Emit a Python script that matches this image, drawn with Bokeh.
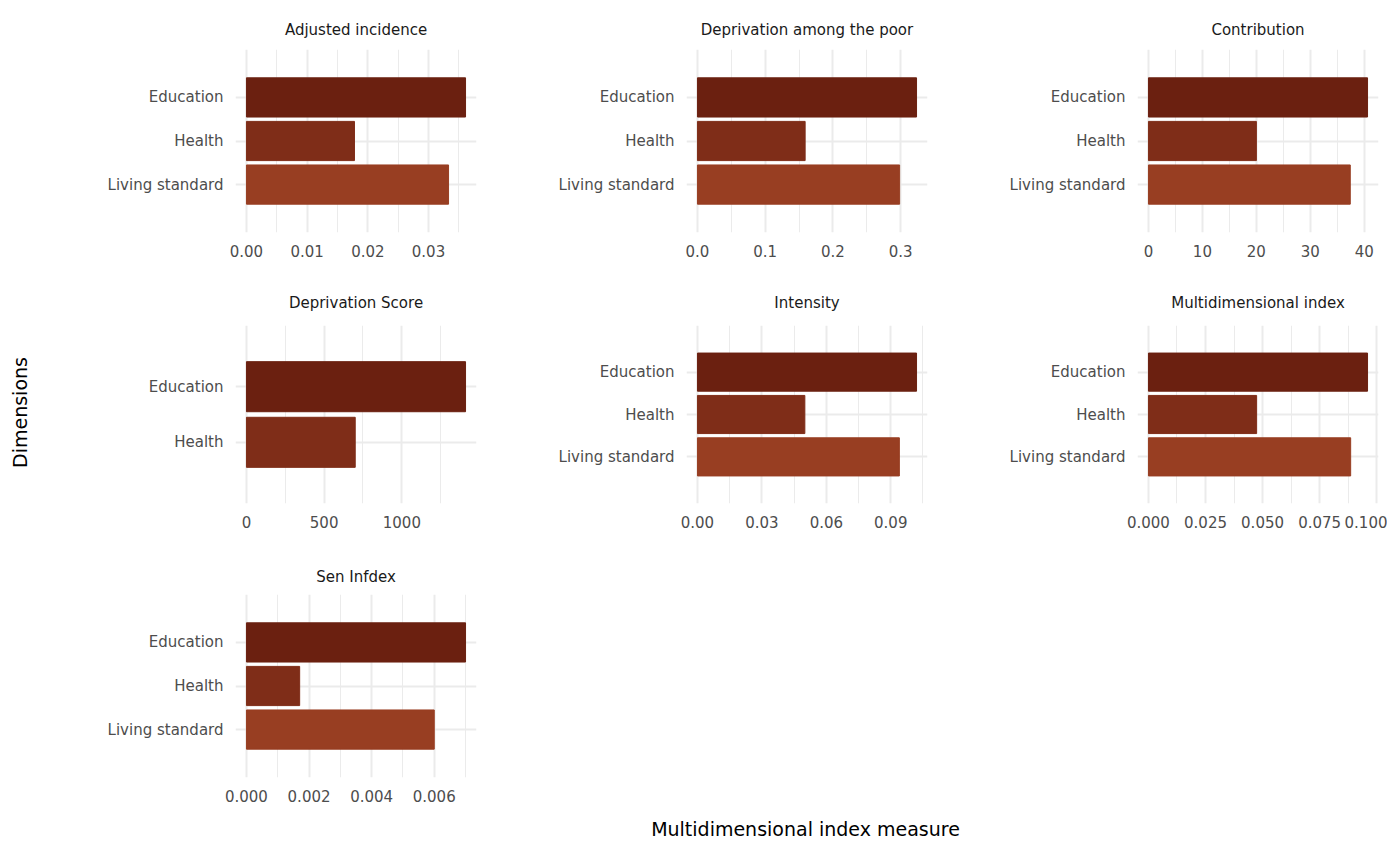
import numpy as np
from bokeh.plotting import figure
from bokeh.layouts import row, column
from bokeh.models import Range1d, FactorRange, FixedTicker, NumeralTickFormatter, Label, Spacer
from bokeh.core.properties import value
from bokeh.embed import file_html
from bokeh.resources import INLINE

FONT = "DejaVu Sans"
categories = ["Education", "Health", "Living standard"]
colors = {"Education": "#6B2010", "Health": "#7F2D18", "Living standard": "#983E22"}

titles = ["Adjusted incidence", "Deprivation among the poor", "Contribution",
          "Deprivation Score", "Intensity", "Multidimensional index", "Sen Infdex"]
adjusted_incidence = [0.0361, 0.0178, 0.0333]
deprivation_poor = [0.3235, 0.159, 0.2985]
contribution = [40.6, 20.0, 37.4]
deprivation_score = [1410, 700]          # Education, Health
intensity = [0.102, 0.050, 0.094]
mdi = [0.096, 0.0474, 0.0886]
sen_index = [0.0070, 0.0017, 0.0060]

ticks = [
    ([0, 0.01, 0.02, 0.03], "0.00"),
    ([0, 0.1, 0.2, 0.3], "0.0"),
    ([0, 10, 20, 30, 40], "0"),
    ([0, 500, 1000], "0"),
    ([0, 0.03, 0.06, 0.09], "0.00"),
    ([0, 0.025, 0.05, 0.075, 0.1], "0.000"),
    ([0, 0.002, 0.004, 0.006], "0.000"),
]
series = [adjusted_incidence, deprivation_poor, contribution, deprivation_score,
          intensity, mdi, sen_index]

FW, BL, BR = 241, 201, 9


def strip(title, top, bottom):
    s = figure(width=BL + FW + BR, height=top + 22 + bottom, frame_width=FW, frame_height=22,
               min_border_left=BL, min_border_right=BR, min_border_top=top, min_border_bottom=bottom,
               x_range=Range1d(0, 1), y_range=Range1d(-1, 1), toolbar_location=None,
               output_backend="svg", outline_line_color=None)
    s.axis.visible = False
    s.grid.visible = False
    s.text(x=[0.5], y=[0], text=[title], text_align="center", text_baseline="middle",
           text_font=value(FONT), text_font_size="15px", text_color="#1A1A1A")
    return s


def panel(i, fh, bottom):
    vals = series[i]
    cats = categories[:len(vals)]
    M = max(vals)
    p = figure(width=BL + FW + BR, frame_width=FW, frame_height=fh,
               min_border_left=BL, min_border_right=BR, min_border_top=7, min_border_bottom=bottom,
               x_range=Range1d(-0.05 * M, 1.05 * M),
               y_range=FactorRange(*list(reversed(cats)), range_padding=0.4 if len(cats) == 3 else 0.6),
               toolbar_location=None, output_backend="svg", outline_line_color=None)
    p.hbar(y=cats, right=vals, left=0, height=0.9, color=[colors[c] for c in cats])
    t, fmt = ticks[i]
    minors = [(a + b) / 2 for a, b in zip(t[:-1], t[1:])]
    minors = [t[0] - (t[1] - t[0]) / 2] + minors + [t[-1] + (t[1] - t[0]) / 2]
    p.xaxis.ticker = FixedTicker(ticks=t, minor_ticks=minors)
    p.xaxis.formatter = NumeralTickFormatter(format=fmt)
    for ax in (p.xaxis[0], p.yaxis[0]):
        ax.axis_line_color = None
        ax.major_tick_line_color = None
        ax.minor_tick_line_color = None
        ax.major_label_text_font = FONT
        ax.major_label_text_font_size = "15px"
        ax.major_label_text_color = "#4D4D4D"
        ax.major_label_standoff = 6
    p.xgrid.grid_line_color = "#EBEBEB"
    p.xgrid.grid_line_width = 2
    p.xgrid.minor_grid_line_color = "#EBEBEB"
    p.xgrid.minor_grid_line_width = 1
    p.ygrid.grid_line_color = "#EBEBEB"
    p.ygrid.grid_line_width = 2
    return p


r1s = row(strip(titles[0], 18, 2), strip(titles[1], 18, 2), strip(titles[2], 18, 2))
r1 = row(panel(0, 183, 45), panel(1, 183, 45), panel(2, 183, 45))
r2s = row(strip(titles[3], 14, 5), strip(titles[4], 14, 5), strip(titles[5], 14, 5))
r2 = row(panel(3, 178, 45), panel(4, 178, 45), panel(5, 178, 45))
r3s = row(strip(titles[6], 17, 0))
r3 = row(panel(6, 183, 30))

xl = figure(width=1353, height=40, toolbar_location=None, output_backend="svg",
            outline_line_color=None, min_border=0, x_range=Range1d(0, 1), y_range=Range1d(0, 1))
xl.axis.visible = False
xl.grid.visible = False
xl.add_layout(Label(x=771, y=19, x_units="screen", y_units="screen", text="Multidimensional index measure",
                    text_align="center", text_baseline="middle", text_font=FONT,
                    text_font_size="19px", text_color="#000000"))

yl = figure(width=34, height=847, toolbar_location=None, output_backend="svg",
            outline_line_color=None, min_border=0, x_range=Range1d(0, 1), y_range=Range1d(0, 1))
yl.axis.visible = False
yl.grid.visible = False
yl.add_layout(Label(x=19, y=847 - 412, x_units="screen", y_units="screen", text="Dimensions",
                    angle=np.pi / 2, text_align="center", text_baseline="middle", text_font=FONT,
                    text_font_size="19px", text_color="#000000"))

layout = row(yl, column(r1s, r1, r2s, r2, r3s, r3, xl))
open("out.html", "w").write(file_html(layout, INLINE))
